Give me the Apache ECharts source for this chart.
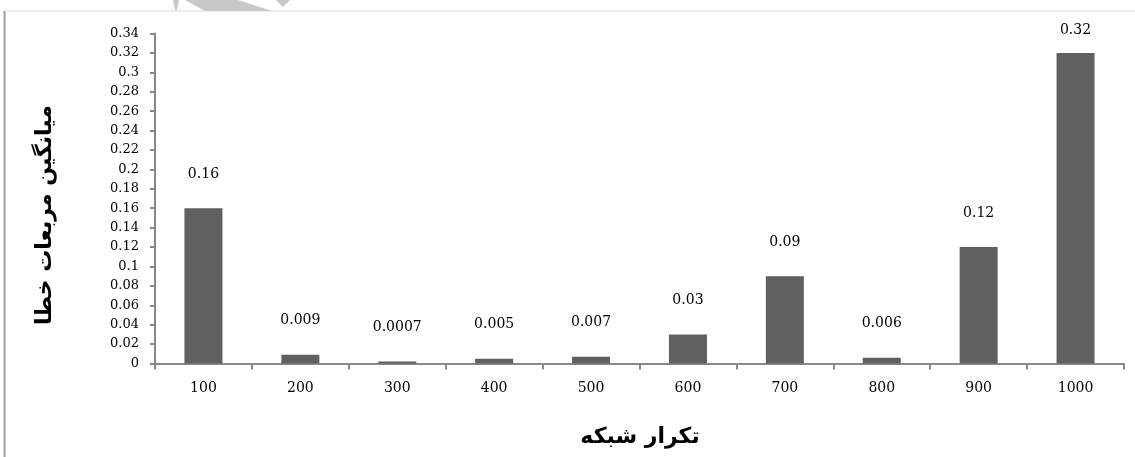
<!DOCTYPE html>
<html>
<head>
<meta charset="utf-8">
<script src="https://cdn.jsdelivr.net/npm/echarts@6/dist/echarts.min.js"></script>
<style>
  html, body { margin: 0; padding: 0; background: #fff; }
  #chart { width: 1135px; height: 457px; }
</style>
</head>
<body>
<div id="chart"></div>
<script>
// داده‌ها
const categories = ["100", "200", "300", "400", "500", "600", "700", "800", "900", "1000"];
const mseValues = [0.16, 0.009, 0.0007, 0.005, 0.007, 0.03, 0.09, 0.006, 0.12, 0.32];
const valueLabels = ["0.16", "0.009", "0.0007", "0.005", "0.007", "0.03", "0.09", "0.006", "0.12", "0.32"];
const yTicks = { min: 0, max: 0.34, interval: 0.02 };
const xTitle = "تکرار شبکه";
const yTitle = "میانگین مربعات خطا";

let axisColor = "#888888";
let serif = "DejaVu Serif";

let chart = echarts.init(document.getElementById("chart"));

let barData = mseValues.map(function (v, i) {
  let item = { value: v };
  // last bar label sits closer, it is clipped by the top
  if (i === mseValues.length - 1) {
    item.label = { distance: 16 };
  }
  return item;
});

let option = {
  animation: false,
  grid: {
    left: 155,
    right: 11,
    top: 33.5,
    bottom: 93.5,
  },
  xAxis: {
    type: "category",
    data: categories,
    axisLine: { lineStyle: { color: axisColor, width: 2 } },
    axisTick: { show: true, length: 6, lineStyle: { color: axisColor, width: 2 } },
    axisLabel: { color: "#000", fontFamily: serif, fontSize: 14, margin: 18 },
  },
  yAxis: {
    type: "value",
    min: yTicks.min,
    max: yTicks.max,
    interval: yTicks.interval,
    splitLine: { show: false },
    axisLine: { show: true, lineStyle: { color: axisColor, width: 2 } },
    axisTick: { show: true, length: 5, lineStyle: { color: axisColor, width: 2 } },
    axisLabel: {
      color: "#000",
      fontFamily: serif,
      fontSize: 13,
      margin: 16,
      formatter: function (v) {
        return String(Math.round(v * 100) / 100);
      },
    },
  },
  series: [
    {
      type: "bar",
      data: barData,
      barWidth: 38,
      barMinHeight: 2,
      itemStyle: { color: "#606060" },
      label: {
        show: true,
        position: "top",
        distance: 27,
        color: "#000",
        fontFamily: serif,
        fontSize: 14,
        formatter: function (p) {
          return valueLabels[p.dataIndex];
        },
      },
    },
  ],
  graphic: [
    // frame lines of the page
    { type: "line", shape: { x1: 4, y1: 11, x2: 1135, y2: 11 }, style: { stroke: "#dcdcdc", lineWidth: 1 } },
    { type: "line", shape: { x1: 4.5, y1: 11, x2: 4.5, y2: 457 }, style: { stroke: "#a0a0a0", lineWidth: 2 } },
    // faint watermark pieces at top
    { type: "polygon", shape: { points: [[173, 0], [179, 0], [177, 10], [175, 10]] }, style: { fill: "#c8c8c8" } },
    { type: "polygon", shape: { points: [[185, 0], [238, 0], [272, 11], [205, 11]] }, style: { fill: "#c8c8c8" } },
    { type: "polygon", shape: { points: [[276, 0], [290, 0], [283, 7]] }, style: { fill: "#c8c8c8" } },
    // axis titles
    {
      type: "text",
      x: 45,
      y: 215,
      rotation: Math.PI / 2,
      style: {
        text: yTitle,
        fontFamily: "DejaVu Sans",
        fontWeight: "bold",
        fontSize: 22,
        fill: "#000",
        align: "center",
        verticalAlign: "middle",
      },
    },
    {
      type: "text",
      x: 640,
      y: 437,
      style: {
        text: xTitle,
        fontFamily: "DejaVu Sans",
        fontWeight: "bold",
        fontSize: 22,
        fill: "#000",
        align: "center",
        verticalAlign: "middle",
      },
    },
  ],
};

chart.setOption(option);
window.addEventListener("resize", function () {
  chart.resize();
});
</script>
</body>
</html>
